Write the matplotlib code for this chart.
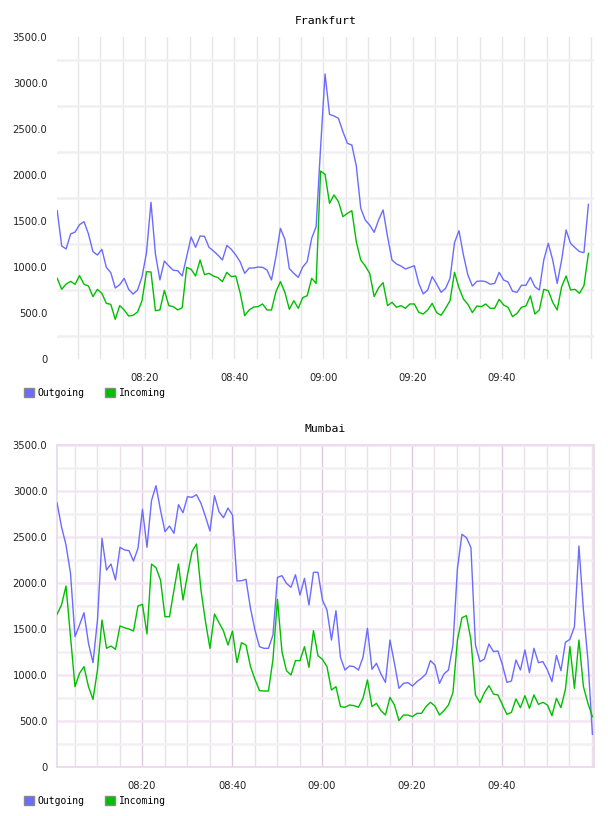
import numpy as np
import matplotlib
matplotlib.use("Agg")
import matplotlib.pyplot as plt
from matplotlib.patches import Patch
from matplotlib.ticker import FixedLocator, MultipleLocator

# values, one sample per minute
fra_out = [1612, 1228, 1196, 1359, 1380, 1460, 1493, 1359, 1167, 1130,
           1192, 996, 938, 772, 808, 877, 757, 706, 750, 895,
           1156, 1703, 1141, 859, 1065, 1011, 964, 960, 902, 1112,
           1326, 1214, 1337, 1333, 1214, 1174, 1130, 1076, 1235, 1192,
           1130, 1054, 931, 989, 989, 1000, 996, 967, 859, 1112,
           1420, 1301, 982, 931, 888, 1000, 1058, 1312, 1438, 2300,
           3098, 2659, 2641, 2616, 2471, 2344, 2326, 2098, 1638, 1511,
           1456, 1377, 1511, 1620, 1330, 1076, 1033, 1011, 978, 996,
           1014, 822, 707, 750, 895, 815, 725, 768, 877, 1264,
           1395, 1130, 913, 793, 844, 848, 841, 812, 822, 942,
           859, 837, 736, 725, 801, 801, 888, 786, 750, 1076,
           1257, 1076, 822, 1076, 1402, 1257, 1210, 1167, 1156, 1681]
fra_in = [877, 757, 815, 844, 812, 906, 812, 793, 678, 757,
          714, 605, 594, 431, 580, 533, 467, 475, 511, 634,
          949, 946, 525, 533, 746, 580, 569, 533, 558, 996,
          975, 902, 1076, 917, 931, 902, 884, 841, 942, 895,
          902, 714, 471, 533, 565, 569, 598, 533, 533, 732,
          841, 725, 540, 634, 551, 667, 688, 877, 822, 2043,
          2007, 1692, 1783, 1710, 1547, 1583, 1612, 1275, 1076, 1011,
          931, 678, 775, 830, 580, 616, 562, 580, 551, 598,
          598, 507, 489, 533, 605, 504, 475, 551, 634, 942,
          775, 652, 594, 504, 576, 569, 598, 551, 551, 649,
          587, 562, 460, 496, 562, 576, 685, 489, 533, 757,
          743, 616, 533, 786, 902, 750, 757, 714, 797, 1148]

mum_out = [2873, 2612, 2413, 2105, 1417, 1543, 1677, 1344, 1134, 1598,
           2485, 2141, 2206, 2033, 2388, 2359, 2351, 2239, 2377, 2801,
           2388, 2895, 3058, 2793, 2558, 2619, 2540, 2851, 2764, 2938,
           2931, 2960, 2866, 2721, 2565, 2949, 2775, 2710, 2815, 2739,
           2022, 2025, 2040, 1725, 1489, 1308, 1290, 1290, 1435, 2061,
           2080, 1996, 1953, 2090, 1869, 2051, 1761, 2116, 2116, 1815,
           1706, 1380, 1699, 1192, 1054, 1098, 1091, 1054, 1192, 1507,
           1062, 1127, 1011, 920, 1380, 1127, 855, 909, 917, 880,
           928, 964, 1011, 1156, 1109, 909, 1011, 1054, 1326, 2159,
           2529, 2493, 2384, 1326, 1145, 1174, 1337, 1254, 1261, 1109,
           920, 935, 1163, 1054, 1272, 1025, 1290, 1134, 1145, 1054,
           928, 1214, 1047, 1355, 1388, 1525, 2402, 1706, 1163, 355]
mum_in = [1659, 1761, 1967, 1417, 873, 1018, 1091, 873, 735, 1054,
          1598, 1290, 1315, 1279, 1533, 1514, 1500, 1478, 1750, 1768,
          1446, 2206, 2167, 2033, 1634, 1634, 1924, 2206, 1815, 2087,
          2340, 2424, 1924, 1580, 1290, 1663, 1569, 1478, 1326, 1478,
          1134, 1351, 1326, 1091, 953, 830, 826, 826, 1170, 1822,
          1254, 1047, 1000, 1156, 1156, 1308, 1083, 1482, 1210, 1170,
          1091, 837, 873, 656, 649, 674, 667, 649, 746, 946,
          656, 692, 612, 565, 757, 674, 504, 565, 565, 547,
          583, 583, 656, 703, 663, 565, 612, 674, 808, 1380,
          1623, 1645, 1380, 783, 699, 808, 884, 793, 783, 674,
          572, 594, 739, 645, 775, 638, 783, 681, 703, 674,
          558, 746, 645, 844, 1308, 855, 1380, 873, 692, 547]

# minutes after 08:00 of the first sample
fra_t0 = 0.35
mum_t0 = 1.1
tick_minutes = [20, 40, 60, 80, 100]
tick_labels = ["08:20", "08:40", "09:00", "09:20", "09:40"]
y_labels = ["0", "500.0", "1000.0", "1500.0", "2000.0", "2500.0", "3000.0", "3500.0"]

BLUE = "#6b6bff"
GREEN = "#00bf00"

fig = plt.figure(figsize=(6.08, 8.16), dpi=100)
W, H = 608, 816


def make_axes(top, bottom):
    return fig.add_axes([57 / W, 1 - bottom / H, (594 - 57) / W, (bottom - top) / H])


def draw(ax, t0, out, inc, xlim, title, mumbai):
    t = t0 + np.arange(len(out))
    ax.plot(t, out, color=BLUE, lw=1.0, zorder=3)
    ax.plot(t, inc, color=GREEN, lw=1.0, zorder=3)
    ax.set_xlim(*xlim)
    ax.set_ylim(0, 3500)
    ax.set_xticks(tick_minutes)
    ax.set_xticklabels(tick_labels)
    ax.set_yticks(range(0, 3501, 500))
    ax.set_yticklabels(y_labels)
    ax.xaxis.set_minor_locator(MultipleLocator(5))
    ax.yaxis.set_minor_locator(FixedLocator(range(250, 3500, 500)))
    ax.tick_params(which="both", length=0, labelsize=7.2, colors="#222222")
    ax.tick_params(axis="x", pad=10)
    ax.tick_params(axis="y", pad=7)
    ax.set_axisbelow(True)
    if mumbai:
        ax.grid(which="minor", axis="x", color="#e8e2e8", lw=1.0)
        ax.grid(which="major", axis="x", color="#dcc8dc", lw=1.0)
        ax.grid(which="minor", axis="y", color="#f2f0f2", lw=1.8)
        ax.grid(which="major", axis="y", color="#f2e6f2", lw=1.8)
        for s in ax.spines.values():
            s.set_color("#ead8ea")
            s.set_linewidth(1.2)
    else:
        ax.grid(which="both", axis="x", color="#e6e6e6", lw=1.0)
        ax.grid(which="minor", axis="y", color="#f0f0f0", lw=1.8)
        for s in ax.spines.values():
            s.set_visible(False)
    ax.set_title(title, fontsize=8.2, family="DejaVu Sans Mono", pad=9)
    handles = [Patch(facecolor=BLUE, edgecolor="#888888", label="Outgoing"),
               Patch(facecolor=GREEN, edgecolor="#888888", label="Incoming")]
    ax.legend(handles=handles, loc="upper left", bbox_to_anchor=(-0.068, -0.077),
              ncol=2, frameon=False, handlelength=1.0, handleheight=1.0,
              handletextpad=0.4, columnspacing=2.1, borderaxespad=0,
              prop={"family": "DejaVu Sans Mono", "size": 7})


ax1 = make_axes(37, 359)
draw(ax1, fra_t0, fra_out, fra_in, (0.3, 120.6), "Frankfurt", False)
ax2 = make_axes(445, 767)
draw(ax2, mum_t0, mum_out, mum_in, (1.1, 120.45), "Mumbai", True)

fig.savefig("out.png", dpi=100)
